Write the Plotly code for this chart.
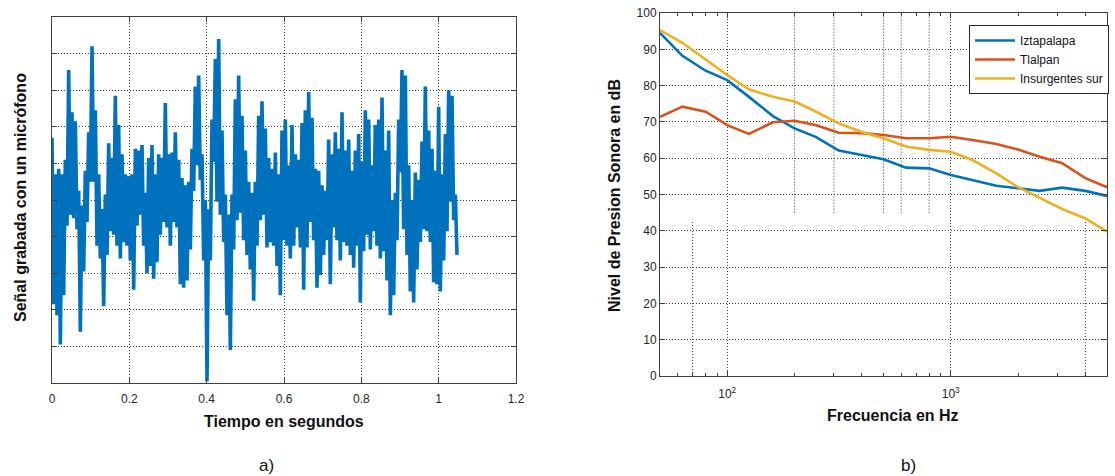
import plotly.graph_objects as go

# ---------------- Panel a): recorded microphone signal ----------------
# Successive local extremes (max, min, max, min, ...) read from the picture, arbitrary amplitude units
signal_values = [
    0.34, -0.57, 0.14, -0.63, 0.17, -0.79, 0.14, -0.52, 0.22, -0.14, 0.71, -0.08, 0.48, -0.10, 0.43, -0.16,
    0.05, -0.72, -0.03, -0.39, 0.16, -0.12, 0.37, 0.10, 0.84, 0.10, 0.49, -0.25, 0.14, -0.32, -0.05, -0.58,
    0.03, -0.30, 0.31, -0.17, 0.23, -0.19, 0.57, -0.25, 0.41, -0.32, 0.25, -0.23, 0.14, -0.25, 0.13, -0.33,
    0.14, -0.49, 0.28, -0.14, 0.27, -0.08, 0.30, -0.25, 0.04, -0.40, 0.23, -0.36, 0.30, -0.43, 0.14, -0.34,
    0.25, -0.19, 0.23, -0.12, 0.53, -0.15, 0.25, -0.25, 0.26, -0.12, 0.37, -0.15, 0.22, -0.46, 0.12, -0.48,
    0.08, -0.44, 0.10, -0.27, 0.28, 0.05, 0.62, 0.19, 0.68, 0.11, 0.25, -0.33, 0.00, -0.99, -0.05, -0.33,
    0.44, 0.21, 0.77, -0.01, 0.88, -0.08, 0.38, -0.23, 0.03, -0.63, -0.08, -0.82, 0.03, -0.27, 0.55, -0.11,
    0.68, -0.07, 0.46, -0.22, 0.27, -0.30, 0.10, -0.38, 0.04, -0.55, 0.10, -0.25, 0.46, -0.11, 0.54, -0.08,
    0.39, -0.26, 0.23, -0.23, 0.17, -0.25, 0.26, -0.36, 0.14, -0.52, 0.38, -0.22, 0.44, -0.25, 0.19, -0.32,
    0.41, -0.25, 0.25, -0.15, 0.22, -0.26, 0.42, -0.49, 0.49, -0.26, 0.59, -0.12, 0.45, -0.22, 0.17, -0.48,
    0.16, -0.41, 0.08, -0.30, 0.05, -0.22, 0.33, -0.46, 0.25, -0.15, 0.37, -0.22, 0.28, -0.33, 0.48, -0.23,
    0.27, -0.25, 0.33, -0.30, 0.16, -0.37, 0.27, -0.25, 0.36, -0.56, 0.21, -0.28, 0.49, -0.19, 0.44, -0.27,
    0.19, -0.17, 0.41, -0.25, 0.44, -0.32, 0.56, -0.28, 0.27, -0.44, 0.38, -0.63, 0.00, -0.52, 0.04, -0.22,
    0.44, 0.15, 0.71, -0.16, 0.68, -0.30, 0.19, -0.50, 0.00, -0.56, 0.15, -0.38, 0.11, -0.23, 0.32, -0.16,
    0.62, -0.17, 0.38, -0.23, 0.28, -0.45, 0.16, -0.46, 0.51, -0.50, 0.14, -0.33, 0.36, -0.17, 0.60, -0.01,
    0.57, -0.11, 0.03, -0.30,
]
sample_period_s = 5 / 1160          # time between successive extremes
time_s = [i * sample_period_s for i in range(len(signal_values))]
time_ticks = [0, 0.2, 0.4, 0.6, 0.8, 1.0, 1.2]
time_tick_labels = ["0", "0.2", "0.4", "0.6", "0.8", "1", "1.2"]

# ---------------- Panel b): sound pressure level per band ----------------
freq_hz = [50, 63, 80, 100, 125, 160, 200, 250, 315, 400, 500, 630, 800, 1000, 1250, 1600, 2000, 2500, 3150, 4000, 5000]
iztapalapa = [94.5, 88.2, 84.1, 81.5, 76.9, 71.6, 68.2, 65.8, 62.1, 60.9, 59.7, 57.4, 57.2, 55.4, 53.9, 52.4, 51.7, 51.0, 51.9, 51.0, 49.6]
tlalpan = [71.4, 74.2, 72.8, 69.1, 66.7, 69.9, 70.3, 69.1, 67.0, 66.9, 66.4, 65.5, 65.5, 65.9, 65.0, 63.9, 62.4, 60.4, 58.6, 54.5, 52.0]
insurgentes_sur = [95.3, 91.8, 87.2, 82.9, 79.0, 76.9, 75.6, 72.8, 69.6, 67.2, 65.5, 63.2, 62.3, 61.8, 59.5, 55.8, 52.0, 49.0, 46.0, 43.4, 39.8]
series_names = ["Iztapalapa", "Tlalpan", "Insurgentes sur"]
series_colors = ["#0072BD", "#D95319", "#EDB120"]

freq_major_ticks = [100, 1000]
freq_major_labels = ["10<sup>2</sup>", "10<sup>3</sup>"]
freq_minor_ticks = [50, 60, 70, 80, 90, 200, 300, 400, 500, 600, 700, 800, 900, 2000, 3000, 4000, 5000]
db_ticks = [0, 10, 20, 30, 40, 50, 60, 70, 80, 90, 100]

# partial dotted minor grid lines visible in the original figure
upper_grid_freqs = [200, 300, 500, 600, 800]
upper_grid_span_db = [45, 100]
lower_grid_freqs = [70, 4000]
lower_grid_span_db = [0, 43]

W, H = 1115, 476
GRID = "#3a3a3a"
GDASH = "1px,2px"
AXC = "#404040"
TICKF = dict(family="Liberation Sans, Arial, sans-serif", size=12, color="#262626")
LABF = dict(family="Liberation Sans, Arial, sans-serif", size=16, color="#111111", weight="bold")

fig = go.Figure()

# minor grid segments (drawn first, behind the curves)
gx, gy = [], []
for f in upper_grid_freqs:
    gx += [f, f, None]
    gy += [upper_grid_span_db[0], upper_grid_span_db[1], None]
for f in lower_grid_freqs:
    gx += [f, f, None]
    gy += [lower_grid_span_db[0], lower_grid_span_db[1], None]
fig.add_trace(go.Scatter(x=gx, y=gy, mode="lines", xaxis="x2", yaxis="y2",
                         line=dict(color=GRID, width=1, dash=GDASH),
                         showlegend=False, hoverinfo="skip"))

fig.add_trace(go.Scatter(x=time_s, y=signal_values, mode="lines",
                         line=dict(color="#0072BD", width=3.6, simplify=False),
                         showlegend=False, xaxis="x", yaxis="y"))

for name, vals, col in zip(series_names, [iztapalapa, tlalpan, insurgentes_sur], series_colors):
    fig.add_trace(go.Scatter(x=freq_hz, y=vals, mode="lines", name=name,
                             line=dict(color=col, width=2.6),
                             xaxis="x2", yaxis="y2"))

def px_x(p):
    return p / W

def px_y(p):
    return 1 - p / H

common_axis = dict(showline=True, linecolor=AXC, linewidth=1, mirror="ticks",
                   ticks="inside", ticklen=5, tickcolor=AXC, tickfont=TICKF,
                   gridcolor=GRID, griddash=GDASH, gridwidth=1, zeroline=False,
                   automargin=False)

fig.update_layout(
    width=W, height=H,
    margin=dict(l=0, r=0, t=0, b=0, autoexpand=False),
    paper_bgcolor="white", plot_bgcolor="white",
    xaxis=dict(domain=[px_x(52), px_x(516)], range=[0, 1.2], tickvals=time_ticks,
               ticktext=time_tick_labels, showgrid=True, anchor="y", ticklabelstandoff=5,
               **common_axis),
    yaxis=dict(domain=[px_y(383), px_y(17)], range=[-1, 1], dtick=0.2, tick0=-1,
               showticklabels=False, showgrid=True, anchor="x", **common_axis),
    xaxis2=dict(domain=[px_x(660), px_x(1107)], type="log", range=[1.69897, 3.69897],
                tickvals=freq_major_ticks, ticktext=freq_major_labels, showgrid=True, anchor="y2",
                ticklabelstandoff=7,
                minor=dict(tickvals=freq_minor_ticks, ticks="inside", ticklen=3, tickcolor=AXC, showgrid=False),
                **common_axis),
    yaxis2=dict(domain=[px_y(376), px_y(13)], range=[0, 100], tickvals=db_ticks,
                showgrid=True, anchor="x2", **common_axis),
    legend=dict(x=px_x(969), y=px_y(25), xanchor="left", yanchor="top",
                bgcolor="white", bordercolor="#262626", borderwidth=1,
                font=dict(family="Liberation Sans, Arial, sans-serif", size=12, color="#111"),
                tracegroupgap=0, itemwidth=40),
    annotations=[
        dict(text="Señal grabada con un micrófono", x=px_x(20), y=px_y(198), xref="paper", yref="paper",
             textangle=-90, showarrow=False, font=LABF, xanchor="center", yanchor="middle"),
        dict(text="Tiempo en segundos", x=px_x(284), y=px_y(421), xref="paper", yref="paper",
             showarrow=False, font=LABF, xanchor="center", yanchor="middle"),
        dict(text="Nivel de Presion Sonora en dB", x=px_x(614), y=px_y(195), xref="paper", yref="paper",
             textangle=-90, showarrow=False, font=LABF, xanchor="center", yanchor="middle"),
        dict(text="Frecuencia en Hz", x=px_x(893), y=px_y(415), xref="paper", yref="paper",
             showarrow=False, font=LABF, xanchor="center", yanchor="middle"),
        dict(text="a)", x=px_x(266), y=px_y(465), xref="paper", yref="paper",
             showarrow=False, font=dict(family="Liberation Sans, Arial, sans-serif", size=17, color="#111"),
             xanchor="center", yanchor="middle"),
        dict(text="b)", x=px_x(908), y=px_y(465), xref="paper", yref="paper",
             showarrow=False, font=dict(family="Liberation Sans, Arial, sans-serif", size=17, color="#111"),
             xanchor="center", yanchor="middle"),
    ],
)

fig.write_html("out.html", config={"displayModeBar": False},
               post_script="document.body.style.margin='0px';document.body.style.overflow='hidden';")
